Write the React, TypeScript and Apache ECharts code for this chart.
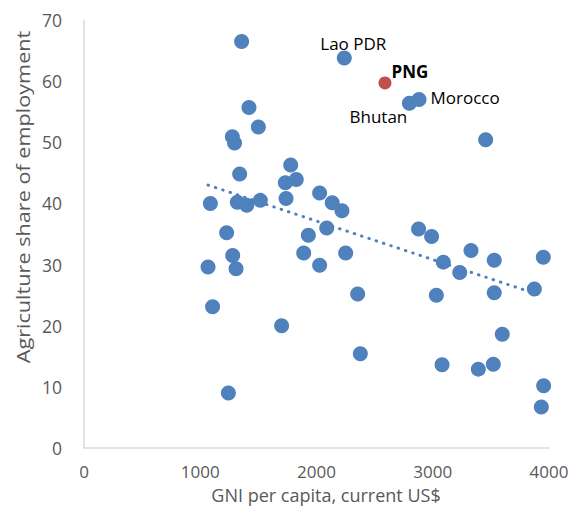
import React, { useEffect, useRef } from "react";
import * as echarts from "echarts";

const gni = [1356, 2239, 2799, 2882, 1419, 1500, 1276, 1295, 3455, 1339, 1778, 1732, 1826, 1087, 1319, 1400, 1517, 1738, 2027, 2135, 2219, 1227, 1930, 2088, 1279, 1067, 1308, 1890, 2027, 2251, 2354, 1106, 1700, 2377, 1242, 2878, 2990, 3329, 3091, 3232, 3529, 3951, 3031, 3529, 3874, 3598, 3080, 3392, 3521, 3954, 3934];
const agri = [66.5, 63.8, 56.4, 57.0, 55.7, 52.5, 50.9, 49.9, 50.4, 44.8, 46.3, 43.4, 43.9, 40.0, 40.2, 39.7, 40.5, 40.8, 41.7, 40.1, 38.8, 35.2, 34.8, 36.0, 31.5, 29.6, 29.3, 31.9, 29.9, 31.9, 25.2, 23.1, 20.0, 15.4, 9.0, 35.8, 34.6, 32.3, 30.4, 28.7, 30.7, 31.2, 25.0, 25.4, 26.0, 18.6, 13.6, 12.9, 13.7, 10.2, 6.7];
const names = ["", "Lao PDR", "Bhutan", "Morocco"];

const pngGni = [2589];
const pngAgri = [59.7];
const pngName = ["PNG"];

const trendX = [1067, 3954];
const trendY = [43.0, 24.8];

const xTicks = [0, 1000, 2000, 3000, 4000];
const yTicks = [0, 10, 20, 30, 40, 50, 60, 70];

const xTitle = "GNI per capita, current US$";
const yTitle = "Agriculture share of employment";

const FONT = "'Open Sans', sans-serif";
const BLUE = "#4F81BD";
const RED = "#C0504D";

const labelPos: Record<string, any> = {
  "Lao PDR": { position: "top", distance: 0, offset: [9, 2] },
  Bhutan: { position: "bottom", distance: 0, offset: [-31, -3] },
  Morocco: { position: "right", distance: 4, offset: [0, -2] },
};

export default function App() {
  const ref = useRef<HTMLDivElement>(null);
  useEffect(() => {
    document.body.style.margin = "0";
    if (!ref.current) return;
    const chart = echarts.init(ref.current, null, { renderer: "svg" });
    const blueData = gni.map((x, i) => {
      const n = names[i] || "";
      const item: any = { value: [x, agri[i]], name: n };
      if (n) {
        item.label = {
          show: true,
          formatter: n,
          color: "#000",
          fontFamily: FONT,
          fontSize: 17,
          ...labelPos[n],
        };
      }
      return item;
    });
    const pngData = pngGni.map((x, i) => ({
      value: [x, pngAgri[i]],
      name: pngName[i],
      label: {
        show: true,
        formatter: pngName[i],
        position: "right",
        distance: 0,
        offset: [0, -11],
        color: "#000",
        fontWeight: "bold",
        fontFamily: FONT,
        fontSize: 17,
      },
    }));
    chart.setOption({
      animation: false,
      backgroundColor: "#fff",
      grid: { left: 84, right: 23, top: 20, bottom: 60, containLabel: false },
      xAxis: {
        type: "value",
        min: xTicks[0],
        max: xTicks[xTicks.length - 1],
        interval: 1000,
        axisLine: { show: true, lineStyle: { color: "#d9d9d9", width: 1.5 } },
        axisTick: { show: false },
        splitLine: { show: false },
        axisLabel: {
          color: "#595959",
          fontFamily: FONT,
          fontSize: 17,
          margin: 15,
          lineHeight: 17,
          formatter: (v: number) => String(v),
        },
      },
      yAxis: {
        type: "value",
        min: yTicks[0],
        max: yTicks[yTicks.length - 1],
        interval: 10,
        axisLine: { show: true, lineStyle: { color: "#d9d9d9", width: 1.5 } },
        axisTick: { show: false },
        splitLine: { show: false },
        axisLabel: {
          color: "#595959",
          fontFamily: FONT,
          fontSize: 17.5,
          margin: 22,
          formatter: (v: number) => String(v),
        },
      },
      graphic: [
        {
          type: "text",
          x: 326,
          y: 495,
          style: {
            text: xTitle,
            fill: "#595959",
            font: `18px ${FONT}`,
            lineHeight: 18,
            textAlign: "center",
            textVerticalAlign: "middle",
          },
        },
        {
          type: "text",
          x: 23,
          y: 197,
          rotation: Math.PI / 2,
          scaleX: 1.14,
          style: {
            text: yTitle,
            fill: "#595959",
            font: `19px ${FONT}`,
            textAlign: "center",
            textVerticalAlign: "middle",
          },
        },
      ],
      series: [
        {
          type: "line",
          data: trendX.map((x, i) => [x, trendY[i]]),
          showSymbol: false,
          symbol: "none",
          z: 1,
          lineStyle: { color: BLUE, width: 3, type: [0.5, 7.2], cap: "round" },
          silent: true,
        },
        {
          type: "scatter",
          data: blueData,
          symbolSize: 15,
          z: 2,
          itemStyle: { color: BLUE, opacity: 1 },
        },
        {
          type: "scatter",
          data: pngData,
          symbolSize: 13,
          z: 3,
          itemStyle: { color: RED, opacity: 1 },
        },
      ],
    });
    return () => chart.dispose();
  }, []);
  return <div ref={ref} style={{ width: 572, height: 508 }} />;
}
